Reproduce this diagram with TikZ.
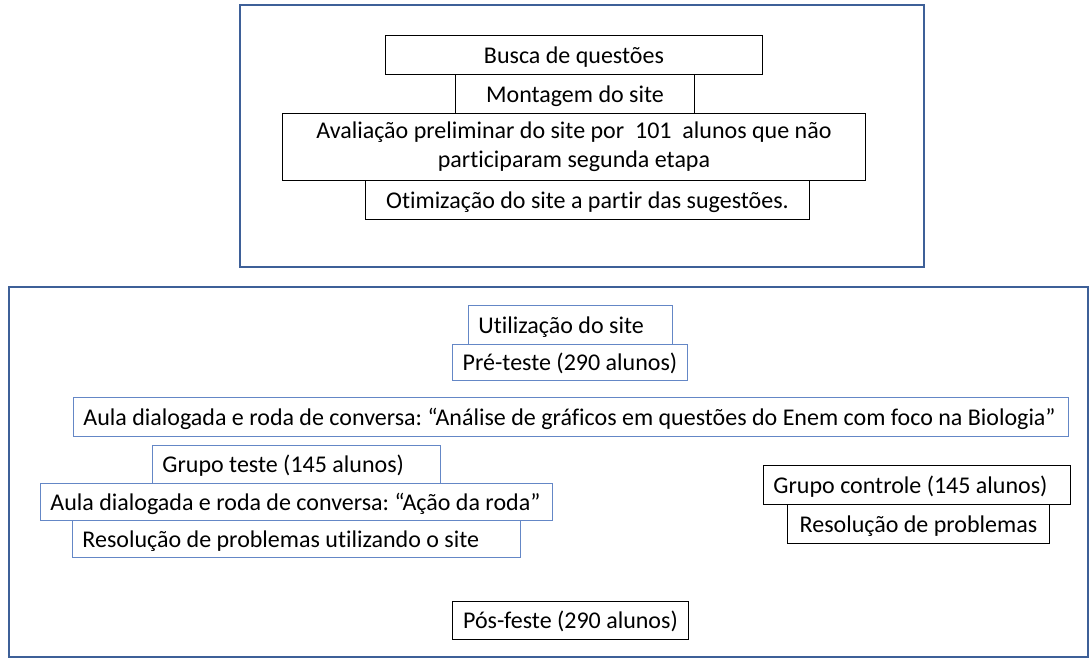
\documentclass[tikz,border=0pt]{standalone}
\usepackage{fontspec}
\setmainfont{Carlito}[Ligatures=NoCommon]
\frenchspacing
\definecolor{frameblue}{RGB}{62,96,152}
\definecolor{boxblue}{RGB}{100,135,198}
\tikzset{
  lbl/.style={font=\fontsize{24}{29}\selectfont, inner xsep=10pt, inner ysep=0pt,
    text height=20pt, text depth=3pt, anchor=north west, fill=white},
  bbox/.style={lbl, draw=black, line width=0.9pt},
  bluebox/.style={lbl, draw=boxblue, line width=0.9pt},
  frame/.style={draw=frameblue, line width=1.6pt},
}
\begin{document}
\begin{tikzpicture}[x=1pt,y=-1pt]
\useasboundingbox (0,0) rectangle (1091,659);
% frames
\draw[frame] (240,5) rectangle (924,267);
\draw[frame] (9,287) rectangle (1088,657);
% top group
\node[bbox, minimum height=39pt] (busca) at (385,35) {\makebox[357pt][c]{Busca de questões}};
\node[bbox, minimum height=39pt] (montagem) at (455,74) {\makebox[219pt][c]{Montagem do site}};
\node[bbox, minimum height=67pt, text height=, text depth=, align=center, text width=563pt] (avaliacao) at (282,113)
  {\makebox{\spaceskip=0pt\xspaceskip=0pt\relax Avaliação preliminar do site por\ \ 101\ \ alunos que não}\\\makebox{\spaceskip=0pt\xspaceskip=0pt\relax participaram segunda etapa}};
\node[bbox, minimum height=39pt] (otimizacao) at (365,180) {\makebox[424pt][c]{Otimização do site a partir das sugestões.}};
% bottom group
\node[bluebox, minimum height=39pt] (utilizacao) at (468,305) {\makebox[184pt][l]{Utilização do site}};
\node[bluebox, minimum height=36pt] (preteste) at (452,344) {\makebox[215pt][c]{Pré-teste (290 alunos)}};
\node[bluebox, minimum height=39pt] (aulaA) at (73,397) {\makebox[975pt][l]{Aula dialogada e roda de conversa: “Análise de gráficos em questões do Enem com foco na Biologia”}};
\node[bluebox, minimum height=38pt] (gteste) at (152,445) {\makebox[268pt][l]{Grupo teste (145 alunos)}};
\node[bluebox, minimum height=37pt] (aulaB) at (40,483) {\makebox[492pt][l]{Aula dialogada e roda de conversa: “Ação da roda”}};
\node[bluebox, minimum height=37pt] (ressite) at (72,520) {\makebox[428pt][l]{Resolução de problemas utilizando o site}};
\node[bbox, minimum height=39pt] (gcontrole) at (763,465) {\makebox[287pt][l]{Grupo controle (145 alunos)}};
\node[bbox, minimum height=39pt] (resprob) at (787,504) {\makebox[242pt][c]{Resolução de problemas}};
\node[bbox, minimum height=38pt] (pos) at (452,601) {\makebox[216pt][c]{Pós-feste (290 alunos)}};
\end{tikzpicture}
\end{document}
